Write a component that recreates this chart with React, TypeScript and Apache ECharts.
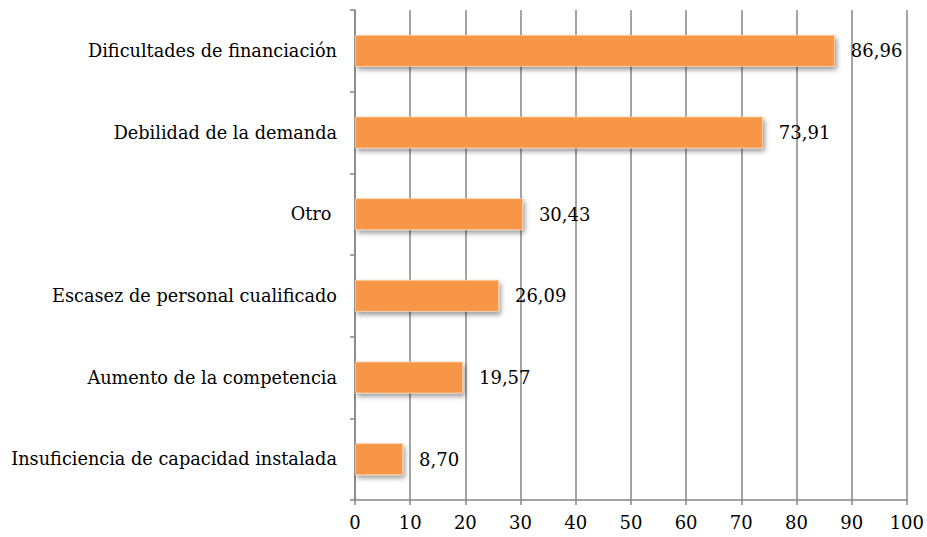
import React, { useEffect, useRef } from "react";
import * as echarts from "echarts";

const categories = [
  "Dificultades de financiación",
  "Debilidad de la demanda",
  "Otro ",
  "Escasez de personal cualificado",
  "Aumento de la competencia",
  "Insuficiencia de capacidad instalada",
];
const values = [86.96, 73.91, 30.43, 26.09, 19.57, 8.7];
const xTicks = { min: 0, max: 100, interval: 10 };

export default function App() {
  const ref = useRef<HTMLDivElement>(null);
  useEffect(() => {
    if (!ref.current) return;
    const chart = echarts.init(ref.current, undefined, { renderer: "svg" });
    const font = "'DejaVu Serif', serif";
    chart.setOption({
      animation: false,
      grid: { left: 355, right: 20, top: 10, bottom: 37, containLabel: false },
      xAxis: {
        type: "value",
        min: xTicks.min,
        max: xTicks.max,
        interval: xTicks.interval,
        axisLine: { show: true, lineStyle: { color: "#868686", width: 1.5 } },
        axisTick: { show: true, length: 5, lineStyle: { color: "#868686", width: 1.5 } },
        splitLine: { show: true, lineStyle: { color: "#868686", width: 1.5 } },
        axisLabel: { color: "#000", fontFamily: font, fontSize: 18, margin: 13 },
      },
      yAxis: {
        type: "category",
        data: categories,
        inverse: true,
        axisLine: { show: true, lineStyle: { color: "#868686", width: 1.5 } },
        axisTick: { show: true, length: 5, lineStyle: { color: "#868686", width: 1.5 } },
        axisLabel: { color: "#000", fontFamily: font, fontSize: 17.7, margin: 18 },
      },
      series: [
        {
          type: "bar",
          data: values,
          barWidth: "39%",
          itemStyle: {
            color: "#F79646",
            borderColor: "#FBD3B0",
            borderWidth: 0.8,
            shadowColor: "rgba(0,0,0,0.4)",
            shadowBlur: 5,
            shadowOffsetX: 2,
            shadowOffsetY: 3,
          },
          label: {
            show: true,
            position: "right",
            distance: 16,
            color: "#000",
            fontFamily: font,
            fontSize: 18,
            formatter: (p: any) => p.value.toFixed(2).replace(".", ","),
          },
        },
      ],
    });
    return () => chart.dispose();
  }, []);
  return (
    <div
      ref={ref}
      style={{ position: "absolute", left: 0, top: 0, width: 927, height: 537, background: "#fff" }}
    />
  );
}
